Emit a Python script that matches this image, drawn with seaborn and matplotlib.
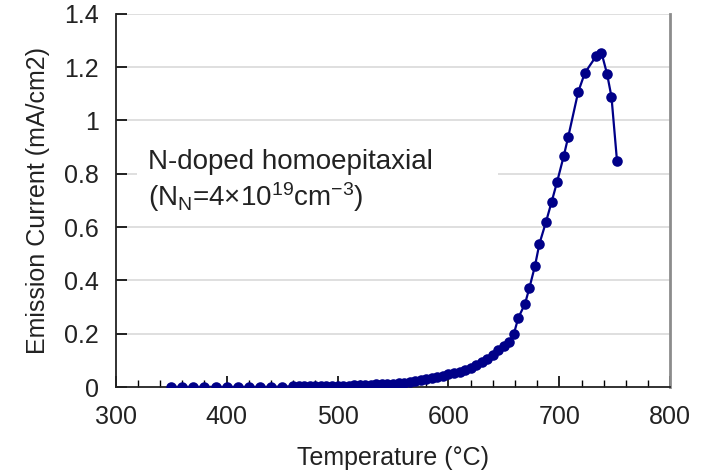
import matplotlib
matplotlib.use("Agg")
import matplotlib.pyplot as plt
from matplotlib.patches import Rectangle
from matplotlib.ticker import MultipleLocator, FixedLocator
import pandas as pd
import seaborn as sns

# Emission current vs. temperature, N-doped homoepitaxial diamond
temperature = [
    350, 360, 370, 380, 390, 400, 410, 420, 430, 440, 450,
    460, 465, 470, 475, 480, 485, 490, 495, 500, 505, 510, 515, 520,
    525, 530, 535, 540, 545, 550, 555, 560, 565, 570, 575, 580, 585,
    590, 595, 600, 605, 610, 615, 620, 625, 630, 635, 640, 645, 650,
    655, 659, 663, 669, 673, 678, 682, 688, 693, 698, 704, 708,
    717, 723, 733, 738, 743, 747, 752,
]
current = [
    0.001, 0.001, 0.001, 0.001, 0.001, 0.001, 0.001, 0.001, 0.001, 0.001, 0.002,
    0.003, 0.003, 0.003, 0.004, 0.004, 0.004, 0.005, 0.005, 0.005, 0.006, 0.006, 0.007, 0.007,
    0.008, 0.009, 0.010, 0.011, 0.012, 0.013, 0.015, 0.017, 0.019, 0.022, 0.025, 0.029, 0.034,
    0.038, 0.043, 0.048, 0.053, 0.058, 0.064, 0.071, 0.082, 0.094, 0.105, 0.120, 0.140, 0.155,
    0.170, 0.200, 0.260, 0.312, 0.372, 0.454, 0.537, 0.620, 0.694, 0.770, 0.867, 0.938,
    1.107, 1.178, 1.240, 1.254, 1.175, 1.089, 0.848,
]

x_ticks = [300, 400, 500, 600, 700, 800]
y_ticks = [0, 0.2, 0.4, 0.6, 0.8, 1.0, 1.2, 1.4]
y_tick_labels = ["0", "0.2", "0.4", "0.6", "0.8", "1", "1.2", "1.4"]

df = pd.DataFrame({"Temperature": temperature, "Current": current})

sns.set_theme(style="white")
plt.rcParams["font.family"] = ["Liberation Sans", "DejaVu Sans"]
plt.rcParams["mathtext.default"] = "regular"

fig = plt.figure(figsize=(7.1, 4.75), dpi=100)
ax = fig.add_axes([0.163, 0.185, 0.781, 0.786])

# horizontal grid
for yv in y_ticks[1:]:
    ax.axhline(yv, color="#d9d9d9", lw=1.2, zorder=0)

# white panel behind the annotation
ax.add_patch(Rectangle((319, 0.63), 326, 0.30, facecolor="white",
                       edgecolor="none", zorder=1))

sns.lineplot(data=df, x="Temperature", y="Current", ax=ax, estimator=None,
             color="#000088", marker="o", markersize=7.6, markeredgewidth=0,
             linewidth=1.6, zorder=3)

ax.set_xlim(300, 800)
ax.set_ylim(0, 1.4)
ax.xaxis.set_major_locator(FixedLocator(x_ticks))
ax.xaxis.set_minor_locator(MultipleLocator(20))
ax.set_yticks(y_ticks)
ax.set_yticklabels(y_tick_labels)

ax.tick_params(axis="both", which="major", direction="in", length=8,
               width=1.2, color="black", labelsize=18, labelcolor="#222222")
ax.tick_params(axis="x", which="minor", direction="in", length=5,
               width=1.0, color="black")
ax.tick_params(axis="x", which="both", bottom=True, top=False, pad=13)
ax.tick_params(axis="y", which="both", left=True, right=False, pad=12)

for side in ["left", "bottom"]:
    ax.spines[side].set_color("#222222")
    ax.spines[side].set_linewidth(1.3)
ax.spines["top"].set_visible(False)
ax.spines["right"].set_color("#8c8c8c")
ax.spines["right"].set_linewidth(2.0)

ax.set_xlabel("Temperature (°C)", fontsize=18, color="#222222", labelpad=12)
ax.set_ylabel("Emission Current (mA/cm2)", fontsize=18, color="#222222",
              labelpad=10)

ax.text(329, 0.818, "N-doped homoepitaxial", fontsize=20, color="#222222",
        va="baseline", ha="left", zorder=4)
ax.text(329, 0.680, r"(N$_{N}$=4×10$^{19}$cm$^{-3}$)", fontsize=20,
        color="#222222", va="baseline", ha="left", zorder=4)

fig.savefig("out.png", dpi=100, facecolor="white")
